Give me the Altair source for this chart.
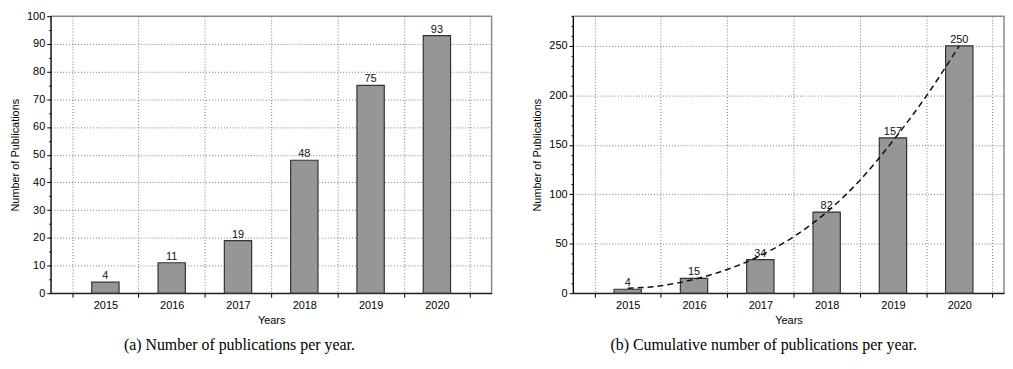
import altair as alt
import pandas as pd

# ---- data ----
years = [2015, 2016, 2017, 2018, 2019, 2020]
per_year = [4, 11, 19, 48, 75, 93]
cumulative = [4, 15, 34, 82, 157, 250]
trend_x = [2015, 2015.5, 2016, 2016.5, 2017, 2017.5, 2018, 2018.5, 2019, 2019.5, 2020]
trend_y = [5, 7.5, 14, 24, 38, 57, 82, 114, 154, 199, 250]
captions = ["(a)  Number of publications per year.",
            "(b)  Cumulative number of publications per year."]
x_title = "Years"
y_title = "Number of Publications"

SANS = "Liberation Sans"
SERIF = "Liberation Serif"

df_a = pd.DataFrame({"year": years, "count": per_year})
df_b = pd.DataFrame({"year": years, "count": cumulative})
df_t = pd.DataFrame({"year": trend_x, "count": trend_y})

bounds = [y - 0.5 for y in years] + [years[-1] + 0.5]
x_values = sorted(bounds + years)


def x_axis():
    return alt.Axis(
        values=x_values,
        tickCount=200,
        labelExpr="datum.value % 1 == 0 ? toString(datum.value) : ''",
        tickOpacity={"condition": {"test": "datum.value % 1 == 0", "value": 0}, "value": 1},
        gridOpacity={"condition": {"test": "datum.value % 1 == 0", "value": 0}, "value": 1},
        tickSize=4,
        labelPadding=2,
        labelOverlap=False,
        labelFlush=False,
        title=x_title,
        titlePadding=4,
    )


def y_axis(maxv, minor, major):
    return alt.Axis(
        values=list(range(0, maxv + 1, minor)),
        tickCount=200,
        format="d",
        labelExpr=f"datum.value % {major} == 0 ? datum.label : ''",
        tickSize={"condition": {"test": f"datum.value % {major} == 0", "value": 4}, "value": 2},
        gridOpacity={"condition": {"test": f"datum.value % {major} == 0 && datum.value > 0 && datum.value < {maxv}", "value": 1}, "value": 0},
        labelOverlap=False,
        labelFlush=False,
        labelPadding=2,
        title=y_title,
        titlePadding=6,
    )


def panel(df, ymax, minor, major, xmax, width, caption, dx, trend=None):
    x = alt.X("year:Q", scale=alt.Scale(domain=[2014.25, xmax], nice=False, zero=False), axis=x_axis())
    y = alt.Y("count:Q", scale=alt.Scale(domain=[0, ymax], nice=False), axis=y_axis(ymax, minor, major))
    bars = alt.Chart(df).mark_bar(width=27.5, color="#969696", stroke="#333333", strokeWidth=1.2).encode(x=x, y=y)
    labels = alt.Chart(df).mark_text(baseline="bottom", dy=-1, font=SANS, fontSize=11, color="#111111").encode(
        x="year:Q", y="count:Q", text="count:Q")
    layers = [bars, labels]
    if trend is not None:
        line = alt.Chart(trend).mark_line(color="#111111", strokeDash=[6, 4], strokeWidth=1.5,
                                          interpolate="monotone").encode(x="year:Q", y="count:Q")
        layers.append(line)
    return alt.layer(*layers).properties(
        width=width, height=279,
        title=alt.TitleParams(text=caption, orient="bottom", anchor="middle", frame="group",
                              dx=dx, offset=12, font=SERIF, fontSize=16, fontWeight="normal",
                              color="black"),
    )


left = panel(df_a, 100, 5, 10, 2020.75, 444, captions[0], -32)
right = panel(df_b, 280, 10, 50, 2020.60, 434, captions[1], -25, trend=df_t)

chart = alt.hconcat(left, right, spacing=38).properties(
    padding={"left": 0, "top": 0, "right": 0, "bottom": 0}
).configure_view(
    stroke="#8a8a8a", strokeWidth=1.5
).configure_axis(
    labelFont=SANS, labelFontSize=11, labelColor="black",
    titleFont=SANS, titleFontSize=11, titleFontWeight="normal", titleColor="black",
    domainColor="black", domainWidth=1, tickColor="black", tickWidth=1,
    gridColor="#7a7a7a", gridDash=[1, 2], gridWidth=1,
)

chart.save("out.html", embed_options={"renderer": "svg", "actions": False})
